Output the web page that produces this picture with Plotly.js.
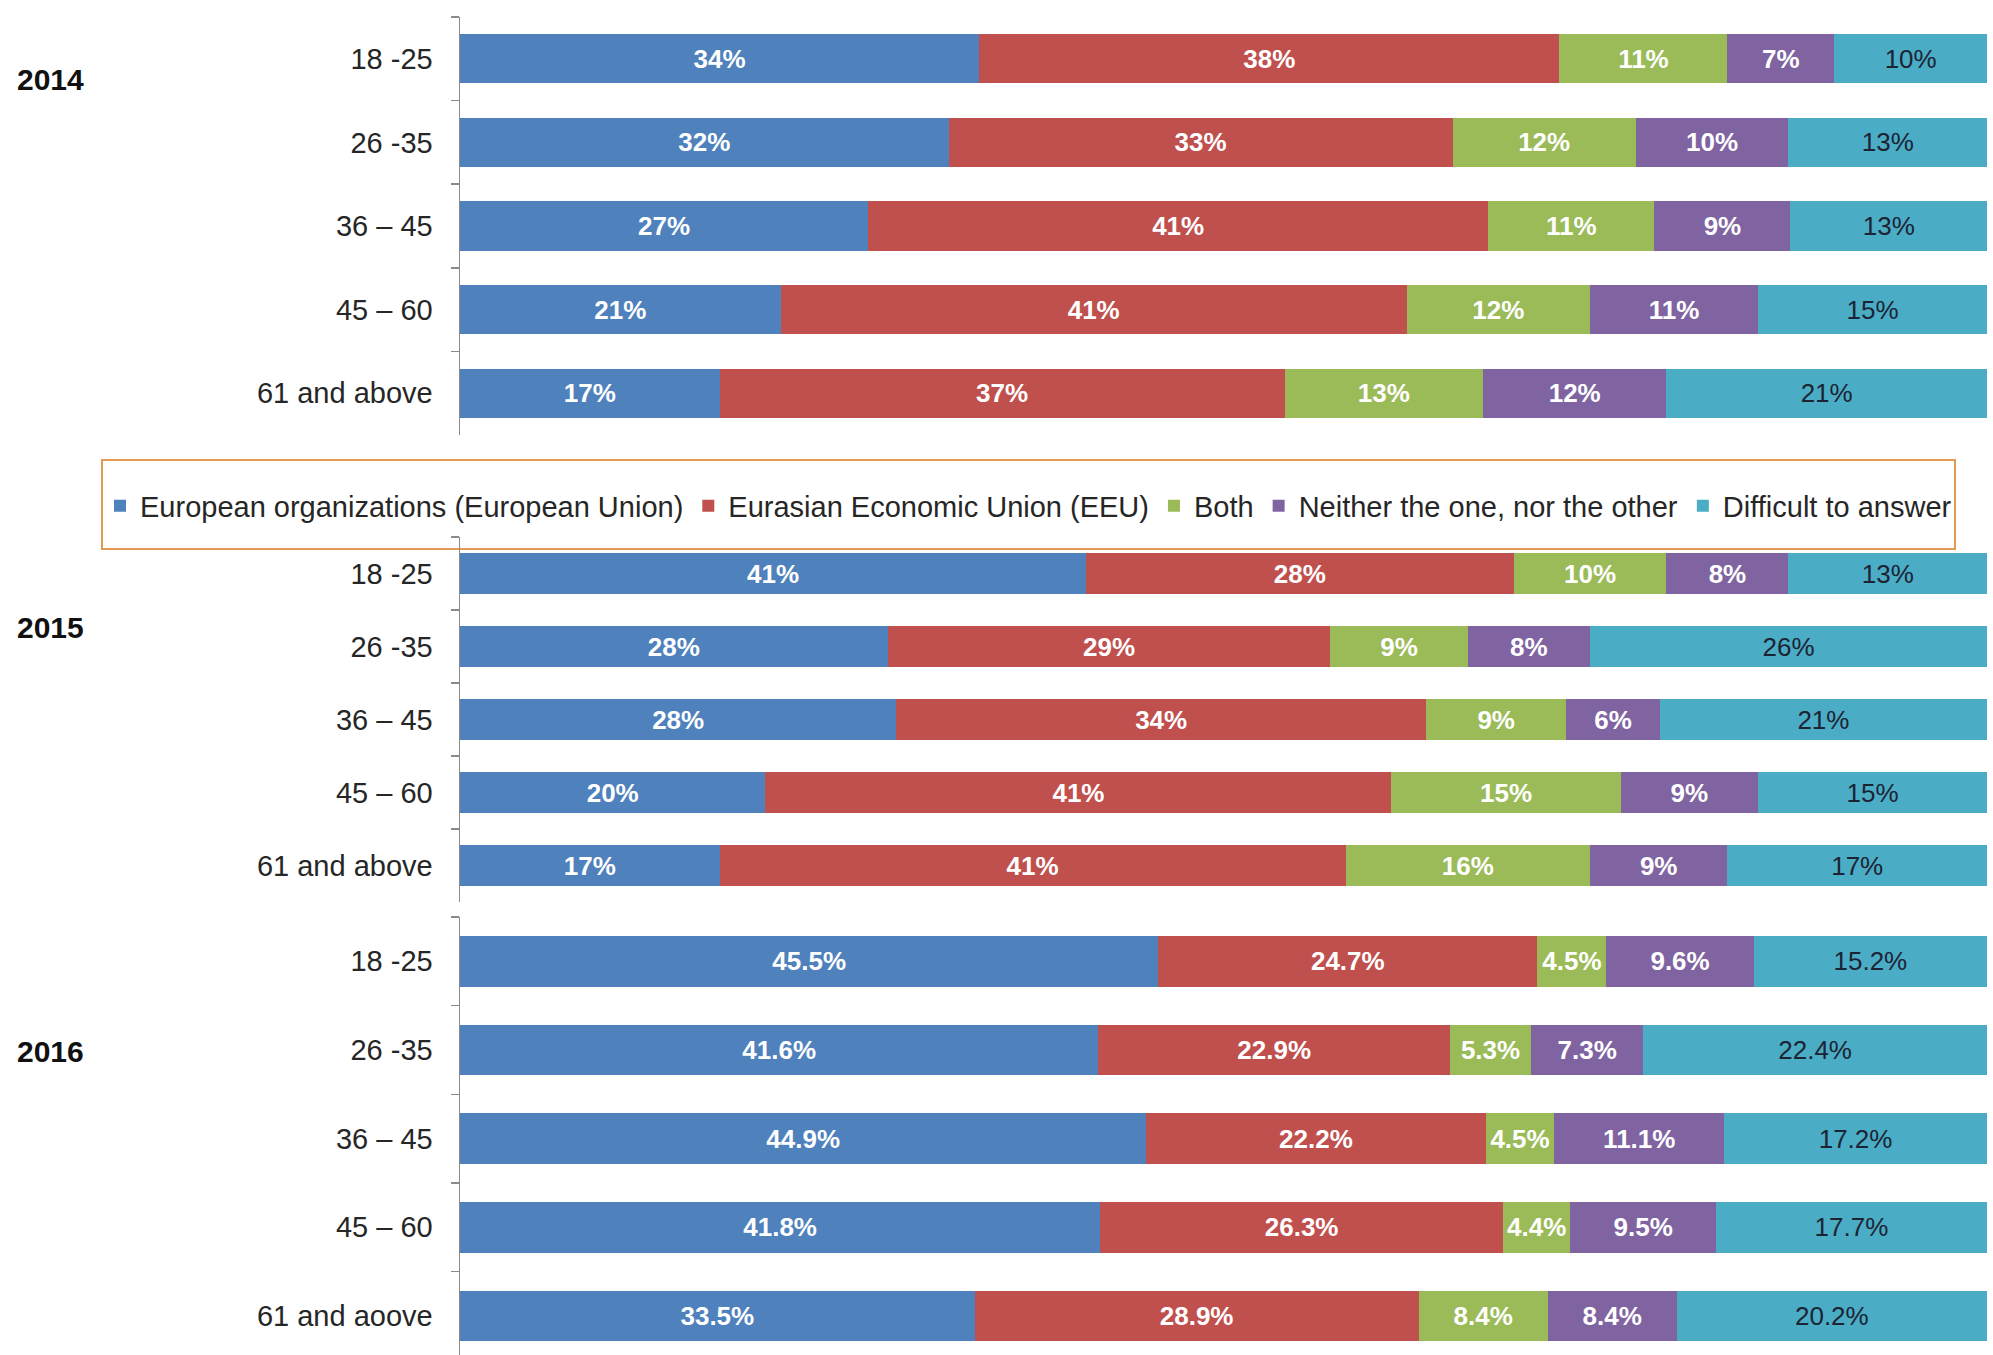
<!DOCTYPE html>
<html>
<head>
<meta charset="utf-8">
<script src="https://cdn.plot.ly/plotly-3.0.1.min.js"></script>
<style>html,body{margin:0;padding:0;background:#fff;}#chart{width:1993px;height:1355px;}</style>
</head>
<body>
<div id="chart"></div>
<script>
// ---------- DATA ----------
const seriesNames = [
  "European organizations (European Union)",
  "Eurasian Economic Union (EEU)",
  "Both",
  "Neither the one, nor the other",
  "Difficult to answer"
];
const years = ["2014", "2015", "2016"];

const cats2014 = ["18 -25", "26 -35", "36 – 45", "45 – 60", "61 and above"];
const cats2015 = ["18 -25", "26 -35", "36 – 45", "45 – 60", "61 and above"];
const cats2016 = ["18 -25", "26 -35", "36 – 45", "45 – 60", "61 and aoove"];

const eu2014      = [34, 32, 27, 21, 17];
const eeu2014     = [38, 33, 41, 41, 37];
const both2014    = [11, 12, 11, 12, 13];
const neither2014 = [7, 10, 9, 11, 12];
const diff2014    = [10, 13, 13, 15, 21];

const eu2015      = [41, 28, 28, 20, 17];
const eeu2015     = [28, 29, 34, 41, 41];
const both2015    = [10, 9, 9, 15, 16];
const neither2015 = [8, 8, 6, 9, 9];
const diff2015    = [13, 26, 21, 15, 17];

const eu2016      = [45.5, 41.6, 44.9, 41.8, 33.5];
const eeu2016     = [24.7, 22.9, 22.2, 26.3, 28.9];
const both2016    = [4.5, 5.3, 4.5, 4.4, 8.4];
const neither2016 = [9.6, 7.3, 11.1, 9.5, 8.4];
const diff2016    = [15.2, 22.4, 17.2, 17.7, 20.2];

// ---------- STYLE ----------
const FONT = "Liberation Sans, Arial, sans-serif";
const colors = ["#4f81bd", "#c0504d", "#9bbb59", "#8064a2", "#4bacc6"];
const labelColors = ["#ffffff", "#ffffff", "#ffffff", "#ffffff", "#1c2433"];
const labelWeights = ["bold", "bold", "bold", "bold", "normal"];

const panels = [
  {cats: cats2014, series: [eu2014, eeu2014, both2014, neither2014, diff2014], xa: "x",  ya: "y",  width: 0.59},
  {cats: cats2015, series: [eu2015, eeu2015, both2015, neither2015, diff2015], xa: "x2", ya: "y2", width: 0.575},
  {cats: cats2016, series: [eu2016, eeu2016, both2016, neither2016, diff2016], xa: "x3", ya: "y3", width: 0.575}
];

const traces = [];
panels.forEach((p, pi) => {
  p.series.forEach((vals, si) => {
    traces.push({
      type: "bar",
      orientation: "h",
      name: seriesNames[si],
      legendgroup: "s" + si,
      showlegend: pi === 0,
      x: vals,
      y: p.cats,
      xaxis: p.xa,
      yaxis: p.ya,
      width: p.width,
      marker: {color: colors[si], line: {width: 0}},
      text: vals.map(v => v + "%"),
      textposition: "inside",
      insidetextanchor: "middle",
      textangle: 0,
      constraintext: "none",
      textfont: {family: FONT, size: 26, color: labelColors[si], weight: labelWeights[si]},
      hoverinfo: "skip"
    });
  });
});

const W = 1993, H = 1355;
const px2x = v => v / W;
const px2y = v => 1 - v / H;

const xdom = [px2x(460), px2x(1987)];
const yBase = {
  type: "category",
  showline: true,
  linecolor: "#8a8a8a",
  linewidth: 1.5,
  ticks: "outside",
  tickson: "boundaries",
  ticklen: 8,
  tickcolor: "#8a8a8a",
  tickwidth: 1.5,
  showgrid: false,
  zeroline: false,
  fixedrange: true,
  ticklabelstandoff: 20,
  tickfont: {family: FONT, size: 29, color: "#262626"}
};
const xBase = {range: [0, 100], visible: false, showgrid: false, zeroline: false, fixedrange: true, domain: xdom};

const layout = {
  width: W,
  height: H,
  margin: {l: 0, r: 0, t: 0, b: 0, pad: 0},
  paper_bgcolor: "#ffffff",
  plot_bgcolor: "rgba(0,0,0,0)",
  barmode: "stack",
  barnorm: "percent",
  font: {family: FONT, size: 28, color: "#262626"},
  xaxis:  Object.assign({}, xBase, {anchor: "y"}),
  xaxis2: Object.assign({}, xBase, {anchor: "y2"}),
  xaxis3: Object.assign({}, xBase, {anchor: "y3"}),
  yaxis:  Object.assign({}, yBase, {anchor: "x",  domain: [px2y(435), px2y(17)],  categoryarray: cats2014, categoryorder: "array", range: [4.5, -0.5]}),
  yaxis2: Object.assign({}, yBase, {anchor: "x2", domain: [px2y(902), px2y(537)], categoryarray: cats2015, categoryorder: "array", range: [4.5, -0.5]}),
  yaxis3: Object.assign({}, yBase, {anchor: "x3", domain: [0, px2y(917)],         categoryarray: cats2016, categoryorder: "array", range: [4.44, -0.5]}),
  showlegend: true,
  legend: {
    orientation: "h",
    x: px2x(100),
    xanchor: "left",
    y: px2y(506),
    yanchor: "middle",
    bgcolor: "rgba(0,0,0,0)",
    borderwidth: 0,
    traceorder: "normal",
    font: {family: FONT, size: 29, color: "#262626"}
  },
  shapes: [{
    type: "rect", xref: "paper", yref: "paper",
    x0: px2x(102), x1: px2x(1955), y0: px2y(549), y1: px2y(460),
    line: {color: "#e39a55", width: 2}, fillcolor: "rgba(0,0,0,0)", layer: "below"
  }],
  annotations: [
    {text: years[0], x: px2x(15), y: px2y(80)},
    {text: years[1], x: px2x(15), y: px2y(628)},
    {text: years[2], x: px2x(15), y: px2y(1051)}
  ].map(a => Object.assign(a, {
    xref: "paper", yref: "paper", xanchor: "left", yanchor: "middle", showarrow: false,
    font: {family: FONT, size: 30, color: "#111111", weight: "bold"}
  }))
};

Plotly.newPlot("chart", traces, layout, {displayModeBar: false, staticPlot: true});
</script>
</body>
</html>
